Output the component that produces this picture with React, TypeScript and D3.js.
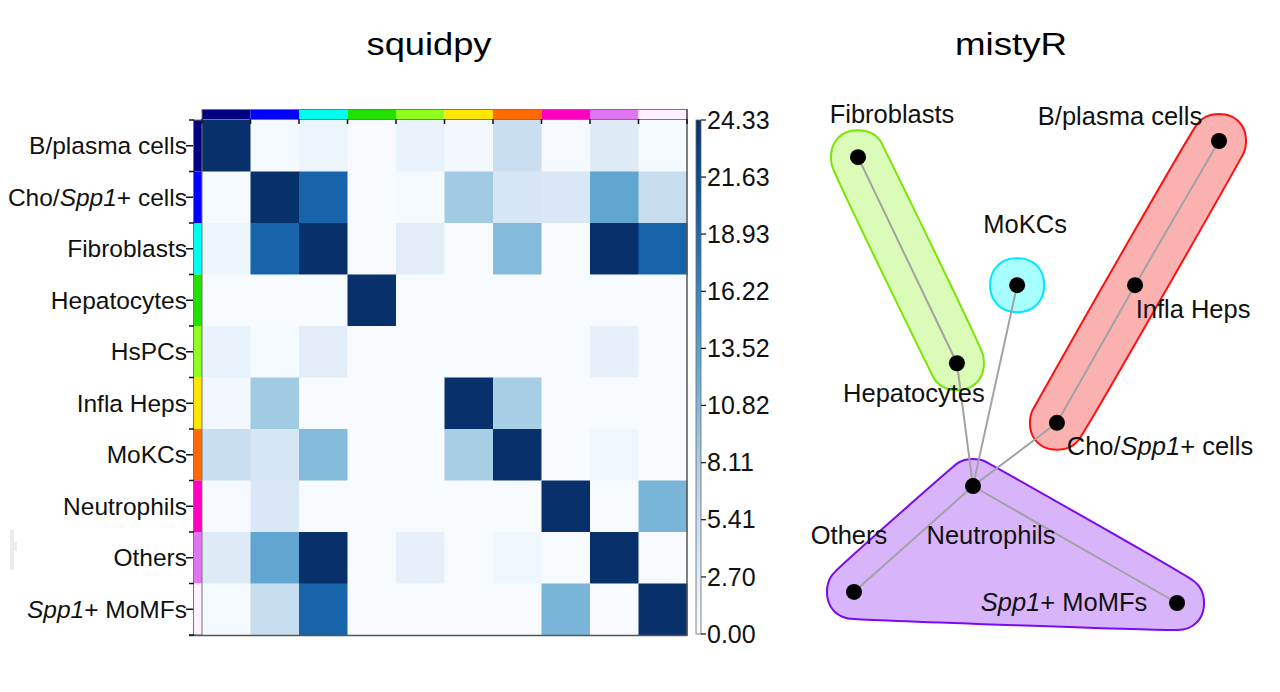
import React from "react";
import * as d3 from "d3";

// ---- squidpy neighborhood enrichment ----
const cellTypes = [
  "B/plasma cells",
  "Cho/Spp1+ cells",
  "Fibroblasts",
  "Hepatocytes",
  "HsPCs",
  "Infla Heps",
  "MoKCs",
  "Neutrophils",
  "Others",
  "Spp1+ MoMFs",
];
const typeColors = [
  "#000080", "#0000ff", "#00ffee", "#22e000", "#90ff20",
  "#ffe600", "#ff6a00", "#ff00c0", "#e077f0", "#fff0ff",
];
const zscores = [
  [24.33, 0.2, 1.3, 0, 1.8, 0.6, 5.5, 0.1, 3.1, 0.2],
  [0.2, 24.33, 19.5, 0, 0.2, 8.8, 4.0, 3.6, 13.0, 5.8],
  [1.3, 19.5, 24.33, 0, 2.6, 0, 10.7, 0, 24.33, 19.5],
  [0, 0, 0, 24.33, 0, 0, 0, 0, 0, 0],
  [1.8, 0.2, 2.6, 0, 0, 0, 0, 0, 2.0, 0],
  [0.6, 8.8, 0, 0, 0, 24.33, 8.3, 0, 0, 0],
  [5.5, 4.0, 10.7, 0, 0, 8.3, 24.33, 0, 1.0, 0],
  [0.1, 3.6, 0, 0, 0, 0, 0, 24.33, 0, 11.4],
  [3.1, 13.0, 24.33, 0, 2.0, 0, 1.0, 0, 24.33, 0],
  [0.2, 5.8, 19.5, 0, 0, 0, 0, 11.4, 0, 24.33],
];
const zMax = 24.33;
const colorbarTicks = [0, 2.7, 5.41, 8.11, 10.82, 13.52, 16.22, 18.93, 21.63, 24.33];

// ---- mistyR interaction graph (layout coordinates) ----
const nodeNames = [
  "Fibroblasts",
  "Hepatocytes",
  "MoKCs",
  "B/plasma cells",
  "Infla Heps",
  "Cho/Spp1+ cells",
  "Neutrophils",
  "Others",
  "Spp1+ MoMFs",
];
const layoutX = [0.011, 0.282, 0.447, 1.0, 0.77, 0.556, 0.326, 0.0, 0.885];
const layoutY = [0.035, 0.481, 0.312, 0.0, 0.312, 0.61, 0.747, 0.976, 1.0];
const edges: [string, string][] = [
  ["Fibroblasts", "Hepatocytes"],
  ["B/plasma cells", "Infla Heps"],
  ["Infla Heps", "Cho/Spp1+ cells"],
  ["Hepatocytes", "Neutrophils"],
  ["MoKCs", "Neutrophils"],
  ["Cho/Spp1+ cells", "Neutrophils"],
  ["Neutrophils", "Others"],
  ["Neutrophils", "Spp1+ MoMFs"],
];
const communities = [
  ["Fibroblasts", "Hepatocytes"],
  ["MoKCs"],
  ["B/plasma cells", "Infla Heps", "Cho/Spp1+ cells"],
  ["Neutrophils", "Others", "Spp1+ MoMFs"],
];
const communityFill = ["#dafcb8", "#a8ffff", "#fcb1b1", "#d8b4fb"];
const communityStroke = ["#7ae600", "#00e6ff", "#ff1010", "#7a0af0"];

const FONT = "'Liberation Sans', Arial, sans-serif";

// text with the gene name Spp1 set in italics
function geneLabel(name: string) {
  const parts = name.split("Spp1");
  if (parts.length === 1) return name;
  return (
    <>
      {parts[0]}
      <tspan fontStyle="italic">Spp1</tspan>
      {parts[1]}
    </>
  );
}

// label placement around each graph node: [dx, dy of baseline]
const labelOffset: Record<string, [number, number]> = {
  "Fibroblasts": [34, -34],
  "Hepatocytes": [-43, 39],
  "MoKCs": [8, -52],
  "B/plasma cells": [-99, -16],
  "Infla Heps": [58, 33],
  "Cho/Spp1+ cells": [103, 32],
  "Neutrophils": [18, 58],
  "Others": [-5, -48],
  "Spp1+ MoMFs": [-113, 8],
};

function Heatmap() {
  const x = d3.scaleBand().domain(cellTypes).range([202, 687]);
  const y = d3.scaleBand().domain(cellTypes).range([120, 635]);
  const color = d3.scaleSequential(d3.interpolateBlues).domain([0, zMax]);
  const cb = d3.scaleLinear().domain([0, zMax]).range([634, 120]);
  const stops = d3.range(0, 1.0001, 0.05);
  const bounds = cellTypes.map((c) => x(c)!).concat([687]);
  const rbounds = cellTypes.map((c) => y(c)!).concat([635]);

  return (
    <g fontFamily={FONT}>
      <defs>
        <linearGradient id="blues" x1="0" y1="1" x2="0" y2="0">
          {stops.map((t) => (
            <stop key={t} offset={t} stopColor={d3.interpolateBlues(t)} />
          ))}
        </linearGradient>
      </defs>
      <text x={429} y={55} textAnchor="middle" fontSize={31} textLength={125} lengthAdjust="spacingAndGlyphs">
        squidpy
      </text>

      {zscores.map((row, i) =>
        row.map((v, j) => (
          <rect
            key={`${i}-${j}`}
            x={x(cellTypes[j])}
            y={y(cellTypes[i])}
            width={x.bandwidth() + 0.5}
            height={y.bandwidth() + 0.5}
            fill={color(v)}
          />
        ))
      )}

      {/* category colour strips */}
      {cellTypes.map((c, i) => (
        <rect key={"col" + c} x={x(c)} y={110} width={x.bandwidth()} height={9.5} fill={typeColors[i]} />
      ))}
      {cellTypes.map((c, i) => (
        <rect key={"row" + c} x={194} y={y(c)} width={8} height={y.bandwidth()} fill={typeColors[i]} />
      ))}
      <rect x={202} y={109.5} width={485} height={10} fill="none" stroke="#777" strokeWidth={1} />
      <rect x={193.5} y={120} width={8.5} height={515} fill="none" stroke="#777" strokeWidth={1} />

      {/* frame */}
      <line x1={687} x2={687} y1={109} y2={636} stroke="#555" strokeWidth={1.5} />
      <line x1={189} x2={687} y1={635.5} y2={635.5} stroke="#555" strokeWidth={1.5} />

      {/* ticks */}
      {bounds.map((b, k) => (
        <line key={"tx" + k} x1={b} x2={b} y1={119} y2={124} stroke="#111" strokeWidth={1.5} />
      ))}
      {rbounds.map((b, k) => (
        <line key={"ty" + k} x1={189} x2={194} y1={b} y2={b} stroke="#111" strokeWidth={1.5} />
      ))}
      {cellTypes.map((c) => {
        const cy = y(c)! + y.bandwidth() / 2;
        return (
          <g key={"lab" + c}>
            <line x1={186} x2={193} y1={cy} y2={cy} stroke="#111" strokeWidth={1.5} />
            <text x={187} y={cy} dy="0.35em" textAnchor="end" fontSize={24.5} fill="#111">
              {geneLabel(c)}
            </text>
          </g>
        );
      })}

      {/* colour bar */}
      <rect x={696} y={120} width={5} height={514} fill="url(#blues)" stroke="#666" strokeWidth={0.8} />
      {colorbarTicks.map((t) => (
        <g key={"cb" + t}>
          <line x1={701} x2={706} y1={cb(t)} y2={cb(t)} stroke="#111" strokeWidth={1.2} />
          <text x={707} y={cb(t)} dy="0.35em" fontSize={25} fill="#111">
            {t.toFixed(2)}
          </text>
        </g>
      ))}

      <rect x={10} y={530} width={4} height={40} fill="#ececec" />
      <rect x={14} y={542} width={3} height={9} fill="#ececec" />
    </g>
  );
}

function Network() {
  const sx = d3.scaleLinear().domain([0, 1]).range([854, 1219]);
  const sy = d3.scaleLinear().domain([0, 1]).range([141, 603]);
  const pos = new Map<string, [number, number]>(
    nodeNames.map((n, i) => [n, [sx(layoutX[i]), sy(layoutY[i])]])
  );

  // rounded hull: a ring of points around every member, convex hull, smooth closed curve
  const R = 27;
  const angles = d3.range(0, 2 * Math.PI, Math.PI / 16);
  const blob = (a: number): [number, number] => {
    const c = Math.cos(a), s = Math.sin(a);
    const p = 2.15;
    return [R * Math.sign(c) * Math.pow(Math.abs(c), 2 / p), R * Math.sign(s) * Math.pow(Math.abs(s), 2 / p)];
  };
  const hullLine = d3.line().curve(d3.curveCatmullRomClosed.alpha(0.5));

  return (
    <g fontFamily={FONT}>
      <text x={1011} y={55} textAnchor="middle" fontSize={31} textLength={112} lengthAdjust="spacingAndGlyphs">
        mistyR
      </text>
      {communities.map((members, g) => {
        const pts: [number, number][] = [];
        members.forEach((m) => {
          const [px, py] = pos.get(m)!;
          angles.forEach((a) => {
            const [dx, dy] = blob(a);
            pts.push([px + dx, py + dy]);
          });
        });
        const hull = d3.polygonHull(pts)!;
        return (
          <path
            key={"hull" + g}
            d={hullLine(hull)!}
            fill={communityFill[g]}
            stroke={communityStroke[g]}
            strokeWidth={2}
          />
        );
      })}
      {edges.map(([a, b]) => {
        const [x1, y1] = pos.get(a)!;
        const [x2, y2] = pos.get(b)!;
        return <line key={a + b} x1={x1} y1={y1} x2={x2} y2={y2} stroke="#a2a2a2" strokeWidth={2} />;
      })}
      {nodeNames.map((n) => {
        const [px, py] = pos.get(n)!;
        return <circle key={"n" + n} cx={px} cy={py} r={8} fill="#000" />;
      })}
      {nodeNames.map((n) => {
        const [px, py] = pos.get(n)!;
        const [dx, dy] = labelOffset[n];
        return (
          <text key={"t" + n} x={px + dx} y={py + dy} textAnchor="middle" fontSize={25.5} fill="#111">
            {geneLabel(n)}
          </text>
        );
      })}
    </g>
  );
}

export default function App() {
  return (
    <svg
      width={1280}
      height={692}
      viewBox="0 0 1280 692"
      style={{ position: "absolute", left: 0, top: 0, background: "#fff" }}
    >
      <rect width={1280} height={692} fill="#fff" />
      <Heatmap />
      <Network />
    </svg>
  );
}
